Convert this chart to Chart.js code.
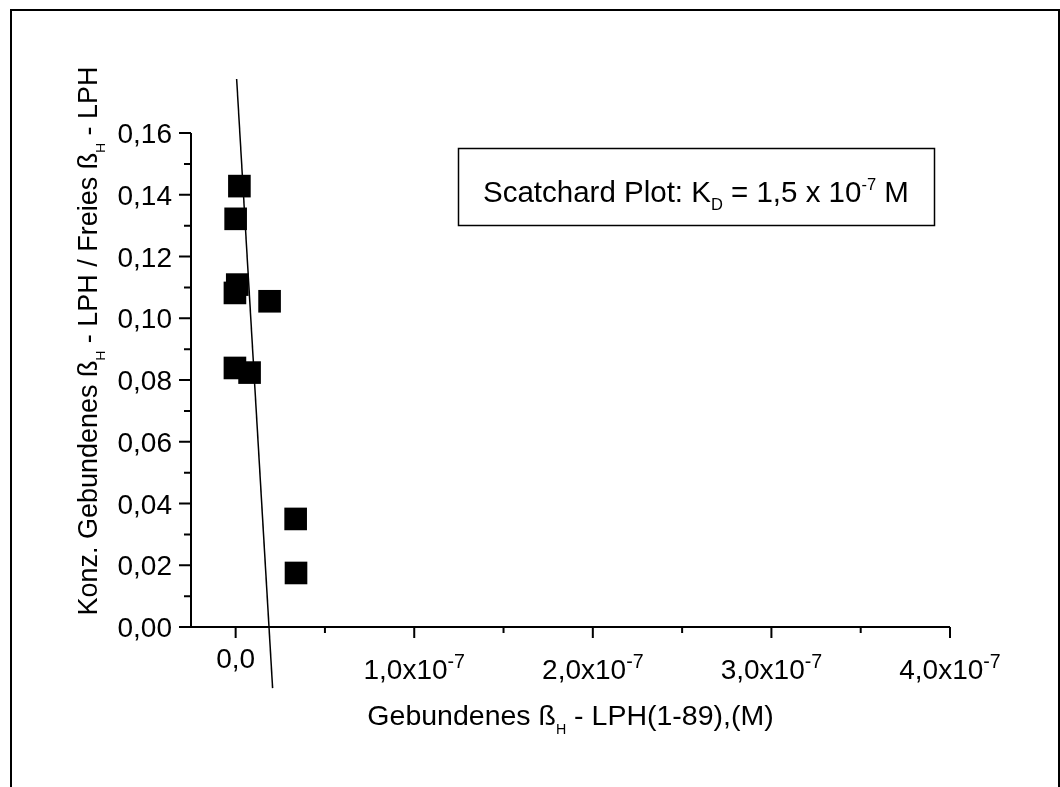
<!DOCTYPE html>
<html>
<head>
<meta charset="utf-8">
<script src="https://cdn.jsdelivr.net/npm/chart.js@4.4.0/dist/chart.umd.min.js"></script>
<style>
  html, body { margin: 0; padding: 0; background: #fff; }
  canvas { display: block; }
</style>
</head>
<body>
<canvas id="graficoScatchard" width="1060" height="787"></canvas>
<script>
// puntos medidos (Scatchard)
const gebundenX = [0.021e-7, 0.0, 0.009e-7, -0.004e-7, 0.19e-7, -0.004e-7, 0.078e-7, 0.336e-7, 0.338e-7];
const verhaeltnisY = [0.1428, 0.1322, 0.1109, 0.1082, 0.1055, 0.0839, 0.0824, 0.0350, 0.0175];

// recta de ajuste, extremos
const fitX = [0.0056e-7, 0.207e-7];
const fitY = [0.1775, -0.0198];

// ticks
const yTicks = [0, 0.02, 0.04, 0.06, 0.08, 0.10, 0.12, 0.14, 0.16];
const yTickLabels = ['0,00', '0,02', '0,04', '0,06', '0,08', '0,10', '0,12', '0,14', '0,16'];
const yMinor = [0.01, 0.03, 0.05, 0.07, 0.09, 0.11, 0.13, 0.15];
const xTicks = [0, 1e-7, 2e-7, 3e-7, 4e-7];
const xTickLabels = ['0,0', '1,0x10', '2,0x10', '3,0x10', '4,0x10'];
const xTickExp = ['', '-7', '-7', '-7', '-7'];
const xMinor = [0.5e-7, 1.5e-7, 2.5e-7, 3.5e-7];

// textos (s: -1 subindice, 1 superindice)
const xTitle = [{t: 'Gebundenes ß'}, {t: 'H', s: -1}, {t: ' - LPH(1-89),(M)'}];
const yTitle = [{t: 'Konz. Gebundenes ß'}, {t: 'H', s: -1}, {t: ' - LPH / Freies ß'}, {t: 'H', s: -1}, {t: ' - LPH'}];
const boxText = [{t: 'Scatchard Plot: K'}, {t: 'D', s: -1}, {t: ' = 1,5 x 10'}, {t: '-7', s: 1}, {t: ' M'}];

const FONT = '"Liberation Sans", Arial, sans-serif';

function drawRich(ctx, parts, x, y, align, size, scale) {
  const small = size * scale;
  const widths = parts.map(p => {
    ctx.font = (p.s ? small : size) + 'px ' + FONT;
    return ctx.measureText(p.t).width;
  });
  const total = widths.reduce((a, b) => a + b, 0);
  let cx = align === 'center' ? x - total / 2 : (align === 'right' ? x - total : x);
  ctx.textAlign = 'left';
  ctx.textBaseline = 'alphabetic';
  parts.forEach((p, i) => {
    ctx.font = (p.s ? small : size) + 'px ' + FONT;
    let dy = 0;
    if (p.s === -1) dy = size * 0.3;
    if (p.s === 1) dy = -size * 0.4;
    ctx.fillText(p.t, cx, y + dy);
    cx += widths[i];
  });
}

const ejesPlugin = {
  id: 'ejes',
  beforeDraw(chart) {
    const ctx = chart.ctx;
    ctx.save();
    ctx.fillStyle = '#fff';
    ctx.fillRect(0, 0, chart.width, chart.height);
    ctx.restore();
  },
  beforeDatasetsDraw(chart) {
    const ctx = chart.ctx;
    const xs = chart.scales.x, ys = chart.scales.y;
    const a = chart.chartArea;
    ctx.save();
    ctx.strokeStyle = '#000';
    ctx.fillStyle = '#000';
    ctx.lineWidth = 2;

    // marco exterior
    ctx.strokeRect(11, 10, 1048, 800);

    // ejes
    ctx.beginPath();
    ctx.moveTo(a.left, a.top);
    ctx.lineTo(a.left, a.bottom);
    ctx.lineTo(a.right, a.bottom);
    ctx.stroke();

    // ticks y
    ctx.beginPath();
    yTicks.forEach(v => { const p = ys.getPixelForValue(v); ctx.moveTo(a.left, p); ctx.lineTo(a.left - 12, p); });
    yMinor.forEach(v => { const p = ys.getPixelForValue(v); ctx.moveTo(a.left, p); ctx.lineTo(a.left - 7, p); });
    // ticks x
    xTicks.forEach(v => { const p = xs.getPixelForValue(v); ctx.moveTo(p, a.bottom); ctx.lineTo(p, a.bottom + 11); });
    xMinor.forEach(v => { const p = xs.getPixelForValue(v); ctx.moveTo(p, a.bottom); ctx.lineTo(p, a.bottom + 6); });
    ctx.stroke();

    // etiquetas y
    ctx.font = '28px ' + FONT;
    ctx.textAlign = 'right';
    ctx.textBaseline = 'alphabetic';
    yTicks.forEach((v, i) => ctx.fillText(yTickLabels[i], a.left - 19, ys.getPixelForValue(v) + 10));

    // etiquetas x
    xTicks.forEach((v, i) => {
      const p = xs.getPixelForValue(v);
      const parts = xTickExp[i] ? [{t: xTickLabels[i]}, {t: xTickExp[i], s: 1}] : [{t: xTickLabels[i]}];
      drawRich(ctx, parts, p, xTickExp[i] ? a.bottom + 52 : a.bottom + 41, 'center', 28, 0.7);
    });

    // titulos
    drawRich(ctx, xTitle, (a.left + a.right) / 2, 725, 'center', 28.5, 0.5);
    ctx.save();
    ctx.translate(97, 341);
    ctx.rotate(-Math.PI / 2);
    drawRich(ctx, yTitle, 0, 0, 'center', 27, 0.5);
    ctx.restore();

    // cuadro de texto
    ctx.lineWidth = 1.5;
    ctx.strokeRect(458.5, 148.5, 476, 77);
    drawRich(ctx, boxText, 483, 201.5, 'left', 29.5, 0.56);
    ctx.restore();
  }
};

new Chart(document.getElementById('graficoScatchard'), {
  type: 'scatter',
  data: {
    datasets: [{
      label: 'Scatchard',
      data: gebundenX.map((x, i) => ({x: x, y: verhaeltnisY[i]})),
      pointStyle: 'rect',
      pointRadius: 16,
      backgroundColor: '#000',
      borderColor: '#000',
      borderWidth: 0
    }, {
      label: 'Ajuste',
      data: fitX.map((x, i) => ({x: x, y: fitY[i]})),
      showLine: true,
      pointRadius: 0,
      borderColor: '#000',
      borderWidth: 1.5,
      clip: false
    }]
  },
  options: {
    responsive: false,
    animation: false,
    devicePixelRatio: 1,
    layout: { padding: { left: 0, top: 133, right: 110, bottom: 0 } },
    plugins: {
      legend: { display: false },
      tooltip: { enabled: false }
    },
    scales: {
      x: {
        type: 'linear', min: -0.25e-7, max: 4e-7,
        grid: { display: false }, border: { display: false }, ticks: { display: false },
        afterFit: s => { s.height = 160; }
      },
      y: {
        type: 'linear', min: 0, max: 0.16,
        grid: { display: false }, border: { display: false }, ticks: { display: false },
        afterFit: s => { s.width = 191; }
      }
    }
  },
  plugins: [ejesPlugin]
});
</script>
</body>
</html>
